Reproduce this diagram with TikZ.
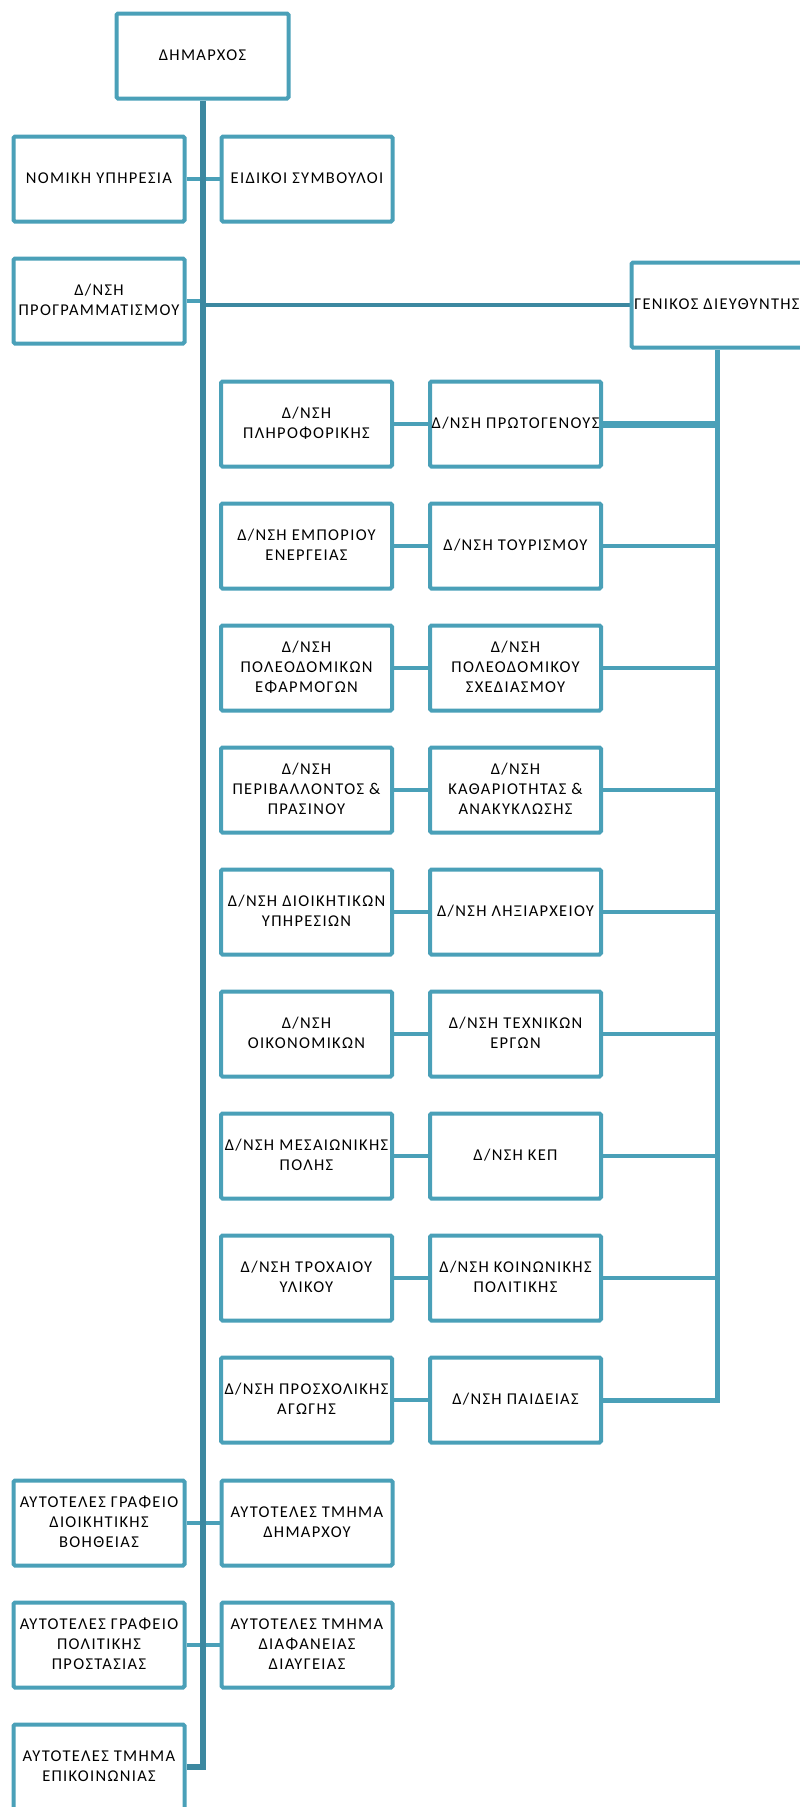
\documentclass[tikz,border=0pt]{standalone}
\usepackage{fontspec}
\setmainfont{Carlito}[LetterSpace=8]
\usetikzlibrary{calc}
\definecolor{bd}{HTML}{4AA0B8}
\definecolor{tr}{HTML}{3C88A0}
\pgfdeclarelayer{bg}
\pgfsetlayers{bg,main}
\newcommand{\tx}[1]{\makebox[0pt]{\begin{tabular}{@{}c@{}}#1\end{tabular}}}
\tikzset{
  box/.style={draw=bd, line width=4pt, fill=white, rounded corners=1.5pt,
    minimum width=171pt, minimum height=85pt, inner sep=0pt,
    font=\fontsize{16.5}{20}\selectfont},
  trunkline/.style={draw=tr, line width=6pt},
  link/.style={draw=bd, line width=4pt},
  darklink/.style={draw=tr, line width=4pt},
  sideline/.style={draw=bd, line width=5pt},
}
\begin{document}
\begin{tikzpicture}[x=1pt,y=-1pt]
\useasboundingbox (0,0) rectangle (800,1807);
\clip (0,0) rectangle (800,1807);
% top
\node[box, minimum width=172pt] (dim) at (202.5,56) {\tx{ΔΗΜΑΡΧΟΣ}};
\node[box] (nom) at (99,179) {\tx{ΝΟΜΙΚΗ ΥΠΗΡΕΣΙΑ}};
\node[box] (eid) at (307,179) {\tx{ΕΙΔΙΚΟΙ ΣΥΜΒΟΥΛΟΙ}};
\node[box] (prog) at (99,301) {\tx{Δ/ΝΣΗ\\ΠΡΟΓΡΑΜΜΑΤΙΣΜΟΥ}};
\node[box] (gen) at (717,305) {\tx{ΓΕΝΙΚΟΣ ΔΙΕΥΘΥΝΤΗΣ}};
% rows
\node[box] (r1a) at (306.5,424) {\tx{Δ/ΝΣΗ\\ΠΛΗΡΟΦΟΡΙΚΗΣ}};
\node[box] (r1b) at (515.5,424) {\tx{Δ/ΝΣΗ ΠΡΩΤΟΓΕΝΟΥΣ}};
\node[box] (r2a) at (306.5,546) {\tx{Δ/ΝΣΗ ΕΜΠΟΡΙΟΥ\\ΕΝΕΡΓΕΙΑΣ}};
\node[box] (r2b) at (515.5,546) {\tx{Δ/ΝΣΗ ΤΟΥΡΙΣΜΟΥ}};
\node[box] (r3a) at (306.5,668) {\tx{Δ/ΝΣΗ\\ΠΟΛΕΟΔΟΜΙΚΩΝ\\ΕΦΑΡΜΟΓΩΝ}};
\node[box] (r3b) at (515.5,668) {\tx{Δ/ΝΣΗ\\ΠΟΛΕΟΔΟΜΙΚΟΥ\\ΣΧΕΔΙΑΣΜΟΥ}};
\node[box] (r4a) at (306.5,790) {\tx{Δ/ΝΣΗ\\ΠΕΡΙΒΑΛΛΟΝΤΟΣ \&\\ΠΡΑΣΙΝΟΥ}};
\node[box] (r4b) at (515.5,790) {\tx{Δ/ΝΣΗ\\ΚΑΘΑΡΙΟΤΗΤΑΣ \&\\ΑΝΑΚΥΚΛΩΣΗΣ}};
\node[box] (r5a) at (306.5,912) {\tx{Δ/ΝΣΗ ΔΙΟΙΚΗΤΙΚΩΝ\\ΥΠΗΡΕΣΙΩΝ}};
\node[box] (r5b) at (515.5,912) {\tx{Δ/ΝΣΗ ΛΗΞΙΑΡΧΕΙΟΥ}};
\node[box] (r6a) at (306.5,1034) {\tx{Δ/ΝΣΗ\\ΟΙΚΟΝΟΜΙΚΩΝ}};
\node[box] (r6b) at (515.5,1034) {\tx{Δ/ΝΣΗ ΤΕΧΝΙΚΩΝ\\ΕΡΓΩΝ}};
\node[box] (r7a) at (306.5,1156) {\tx{Δ/ΝΣΗ ΜΕΣΑΙΩΝΙΚΗΣ\\ΠΟΛΗΣ}};
\node[box] (r7b) at (515.5,1156) {\tx{Δ/ΝΣΗ ΚΕΠ}};
\node[box] (r8a) at (306.5,1278) {\tx{Δ/ΝΣΗ ΤΡΟΧΑΙΟΥ\\ΥΛΙΚΟΥ}};
\node[box] (r8b) at (515.5,1278) {\tx{Δ/ΝΣΗ ΚΟΙΝΩΝΙΚΗΣ\\ΠΟΛΙΤΙΚΗΣ}};
\node[box] (r9a) at (306.5,1400) {\tx{Δ/ΝΣΗ ΠΡΟΣΧΟΛΙΚΗΣ\\ΑΓΩΓΗΣ}};
\node[box] (r9b) at (515.5,1400) {\tx{Δ/ΝΣΗ ΠΑΙΔΕΙΑΣ}};
% bottom
\node[box] (a1) at (99,1523) {\tx{ΑΥΤΟΤΕΛΕΣ ΓΡΑΦΕΙΟ\\ΔΙΟΙΚΗΤΙΚΗΣ\\ΒΟΗΘΕΙΑΣ}};
\node[box] (b1) at (307,1523) {\tx{ΑΥΤΟΤΕΛΕΣ ΤΜΗΜΑ\\ΔΗΜΑΡΧΟΥ}};
\node[box] (a2) at (99,1645) {\tx{ΑΥΤΟΤΕΛΕΣ ΓΡΑΦΕΙΟ\\ΠΟΛΙΤΙΚΗΣ\\ΠΡΟΣΤΑΣΙΑΣ}};
\node[box] (b2) at (307,1645) {\tx{ΑΥΤΟΤΕΛΕΣ ΤΜΗΜΑ\\ΔΙΑΦΑΝΕΙΑΣ\\ΔΙΑΥΓΕΙΑΣ}};
\node[box] (a3) at (99,1767) {\tx{ΑΥΤΟΤΕΛΕΣ ΤΜΗΜΑ\\ΕΠΙΚΟΙΝΩΝΙΑΣ}};
\begin{pgfonlayer}{bg}
  % links across the trunk
  \draw[link] (nom.east) -- (eid.west);
  \draw[link] (a1.east) -- (b1.west);
  \draw[link] (a2.east) -- (b2.west);
  \draw[link] (prog.east) -- (prog.east -| dim.south);
  \draw[darklink] (gen.west -| dim.south) -- (gen.west);
  % side column
  \draw[sideline] (gen.south) |- (r9b.east);
  \foreach \r in {2,...,9} {
    \draw[link] (r\r a.east) -- (r\r a.east -| gen.south);
  }
  \draw[link] (r1a.east) -- (r1b.west);
  \draw[link, line width=7pt] (r1b.east) -- (r1b.east -| gen.south);
  % trunk
  \draw[trunkline] (dim.south) |- (a3.east);
\end{pgfonlayer}
\end{tikzpicture}
\end{document}
